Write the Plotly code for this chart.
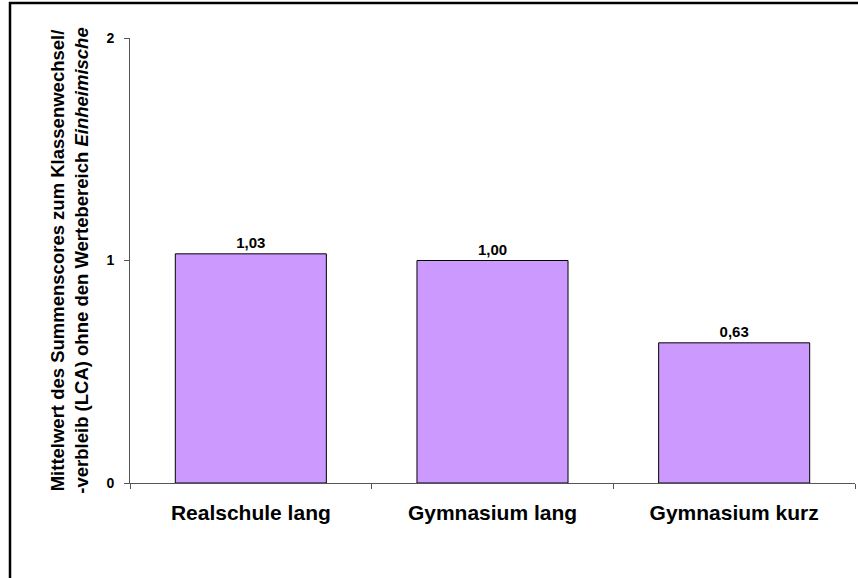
import plotly.graph_objects as go

categories = ["Realschule lang", "Gymnasium lang", "Gymnasium kurz"]
values = [1.03, 1.00, 0.63]
y_ticks = [0, 1, 2]

W, H = 858, 578
L, R, T, B = 130, 3, 38, 95
pw = W - L - R
ph = H - T - B
FONT = "Liberation Sans, Arial, sans-serif"

def px_to_paper_x(x):
    return (x - L) / pw

def px_to_paper_y(y):
    return (H - B - y) / ph

fig = go.Figure()
fig.add_trace(go.Bar(
    x=categories,
    y=values,
    marker=dict(color="#CC99FF", line=dict(color="#000000", width=1)),
    width=0.625,
    texttemplate="%{y:.2f}",
    textposition="outside",
    textfont=dict(family=FONT, size=15, color="#000000", weight="bold"),
    cliponaxis=False,
))

fig.update_layout(
    width=W, height=H,
    margin=dict(l=L, r=R, t=T, b=B),
    paper_bgcolor="white",
    plot_bgcolor="white",
    separators=",.",
    showlegend=False,
    font=dict(family=FONT, color="#000000"),
    yaxis=dict(
        range=[0, 2],
        tickvals=y_ticks,
        ticktext=[str(v) for v in y_ticks],
        showgrid=False,
        zeroline=False,
        showline=True,
        linecolor="#555555",
        linewidth=1,
        ticks="outside",
        ticklen=5,
        tickcolor="#555555",
        tickfont=dict(size=14, family=FONT, color="#000000", weight="bold"),
        ticklabelstandoff=7,
        title=dict(
            text="Mittelwert des Summenscores zum Klassenwechsel/<br>-verbleib (LCA) ohne den Wertebereich <i>Einheimische</i>",
            font=dict(size=18.5, family=FONT, color="#000000", weight="bold"),
            standoff=12,
        ),
    ),
    xaxis=dict(
        showgrid=False,
        showline=True,
        linecolor="#555555",
        linewidth=1,
        ticks="outside",
        tickson="boundaries",
        ticklen=5,
        tickcolor="#555555",
        tickfont=dict(size=21, family=FONT, color="#000000", weight="bold"),
        ticklabelstandoff=11,
    ),
    shapes=[
        dict(type="line", xref="paper", yref="paper",
             x0=px_to_paper_x(9), x1=px_to_paper_x(870),
             y0=px_to_paper_y(3), y1=px_to_paper_y(3),
             line=dict(color="#000000", width=2.5)),
        dict(type="line", xref="paper", yref="paper",
             x0=px_to_paper_x(10), x1=px_to_paper_x(10),
             y0=px_to_paper_y(2), y1=px_to_paper_y(590),
             line=dict(color="#000000", width=2.5)),
    ],
)

fig.write_html("out.html", config={"displayModeBar": False},
               post_script="document.body.style.margin='0';")
